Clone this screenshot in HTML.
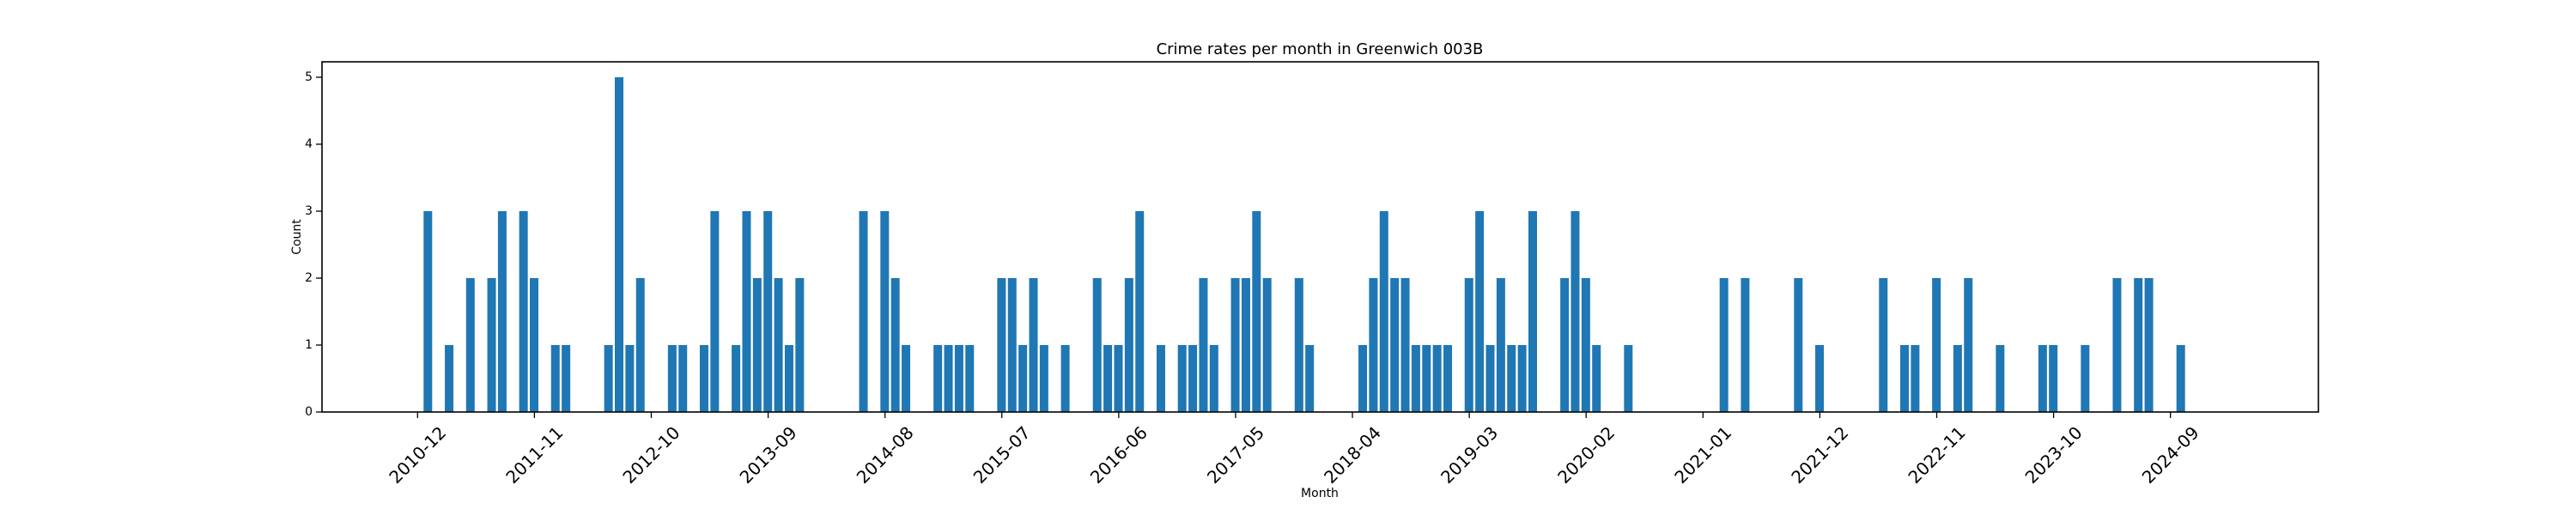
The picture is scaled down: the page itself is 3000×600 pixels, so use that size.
<!DOCTYPE html>
<html><head><meta charset="utf-8"><style>
html,body{margin:0;padding:0;background:#fff;}
svg{display:block;font-family:"DejaVu Sans","Liberation Sans",sans-serif;}
</style></head><body>
<svg id="chart" width="3000" height="600" viewBox="0 0 3000 600">
<rect width="3000" height="600" fill="#fff"/>
<text x="1537" y="63" font-size="18" text-anchor="middle">Crime rates per month in Greenwich 003B</text>
<g id="bars"></g>
<g id="xticks"></g>
<g id="yticks"></g>
<rect x="375" y="72" width="2325" height="408" fill="none" stroke="#000" stroke-width="1.6"/>
<text x="1537" y="579" font-size="14" text-anchor="middle">Month</text>
<text x="0" y="0" font-size="14" text-anchor="middle" transform="translate(350,276) rotate(-90)">Count</text>
</svg>
<script>
const categories = ["2010-12","2011-02","2011-04","2011-06","2011-07","2011-09","2011-10","2011-12","2012-01","2012-05","2012-06","2012-07","2012-08","2012-11","2012-12","2013-02","2013-03","2013-05","2013-06","2013-07","2013-08","2013-09","2013-10","2013-11","2014-05","2014-07","2014-08","2014-09","2014-12","2015-01","2015-02","2015-03","2015-06","2015-07","2015-08","2015-09","2015-10","2015-12","2016-03","2016-04","2016-05","2016-06","2016-07","2016-09","2016-11","2016-12","2017-01","2017-02","2017-04","2017-05","2017-06","2017-07","2017-10","2017-11","2018-04","2018-05","2018-06","2018-07","2018-08","2018-09","2018-10","2018-11","2018-12","2019-02","2019-03","2019-04","2019-05","2019-06","2019-07","2019-08","2019-11","2019-12","2020-01","2020-02","2020-05","2021-02","2021-04","2021-09","2021-11","2022-05","2022-07","2022-08","2022-10","2022-12","2023-01","2023-04","2023-08","2023-09","2023-12","2024-03","2024-05","2024-06","2024-09"];
const counts = [3,1,2,2,3,3,2,1,1,1,5,1,2,1,1,1,3,1,3,2,3,2,1,2,3,3,2,1,1,1,1,1,2,2,1,2,1,1,2,1,1,2,3,1,1,1,2,1,2,2,3,2,2,1,1,2,3,2,2,1,1,1,1,2,3,1,2,1,1,3,2,3,2,1,1,2,2,2,1,2,1,1,2,1,2,1,1,1,1,2,2,2,1];
const xTickLabels = ["2010-12","2011-11","2012-10","2013-09","2014-08","2015-07","2016-06","2017-05","2018-04","2019-03","2020-02","2021-01","2021-12","2022-11","2023-10","2024-09"];
const yTickValues = [0,1,2,3,4,5];

const NS = "http://www.w3.org/2000/svg";
function monthIndex(s){const p=s.split("-");return (+p[0]-2010)*12+(+p[1])-12;}
function xScale(m){return 486.3 + m*12.372;}
function yScale(v){return 480 - v*78;}

const bars=document.getElementById("bars");
categories.forEach((c,i)=>{
  const cx=xScale(monthIndex(c)+0.97);
  const r=document.createElementNS(NS,"rect");
  r.setAttribute("x",cx-5);
  r.setAttribute("width",10);
  r.setAttribute("y",yScale(counts[i]));
  r.setAttribute("height",yScale(0)-yScale(counts[i]));
  r.setAttribute("fill","#1f77b4");
  
  
  bars.appendChild(r);
});

const xt=document.getElementById("xticks");
xTickLabels.forEach(l=>{
  const x=xScale(monthIndex(l));
  const ln=document.createElementNS(NS,"line");
  ln.setAttribute("x1",x);ln.setAttribute("x2",x);
  ln.setAttribute("y1",480);ln.setAttribute("y2",487);
  ln.setAttribute("stroke","#000");ln.setAttribute("stroke-width","1.3");
  
  
  xt.appendChild(ln);
  const t=document.createElementNS(NS,"text");
  t.setAttribute("font-size","20");
  t.setAttribute("text-anchor","middle");
  t.setAttribute("dominant-baseline","central");
  t.setAttribute("transform","translate("+x+",530) rotate(-45)");
  t.textContent=l;
  
  
  xt.appendChild(t);
});

const yt=document.getElementById("yticks");
yTickValues.forEach(v=>{
  const y=yScale(v);
  const ln=document.createElementNS(NS,"line");
  ln.setAttribute("x1",368);ln.setAttribute("x2",375);
  ln.setAttribute("y1",y);ln.setAttribute("y2",y);
  ln.setAttribute("stroke","#000");ln.setAttribute("stroke-width","1.3");
  
  
  yt.appendChild(ln);
  const t=document.createElementNS(NS,"text");
  t.setAttribute("x",364);t.setAttribute("y",y);
  t.setAttribute("font-size","14");
  t.setAttribute("text-anchor","end");
  t.setAttribute("dominant-baseline","central");
  t.textContent=v;
  
  
  yt.appendChild(t);
});
</script>
</body></html>
